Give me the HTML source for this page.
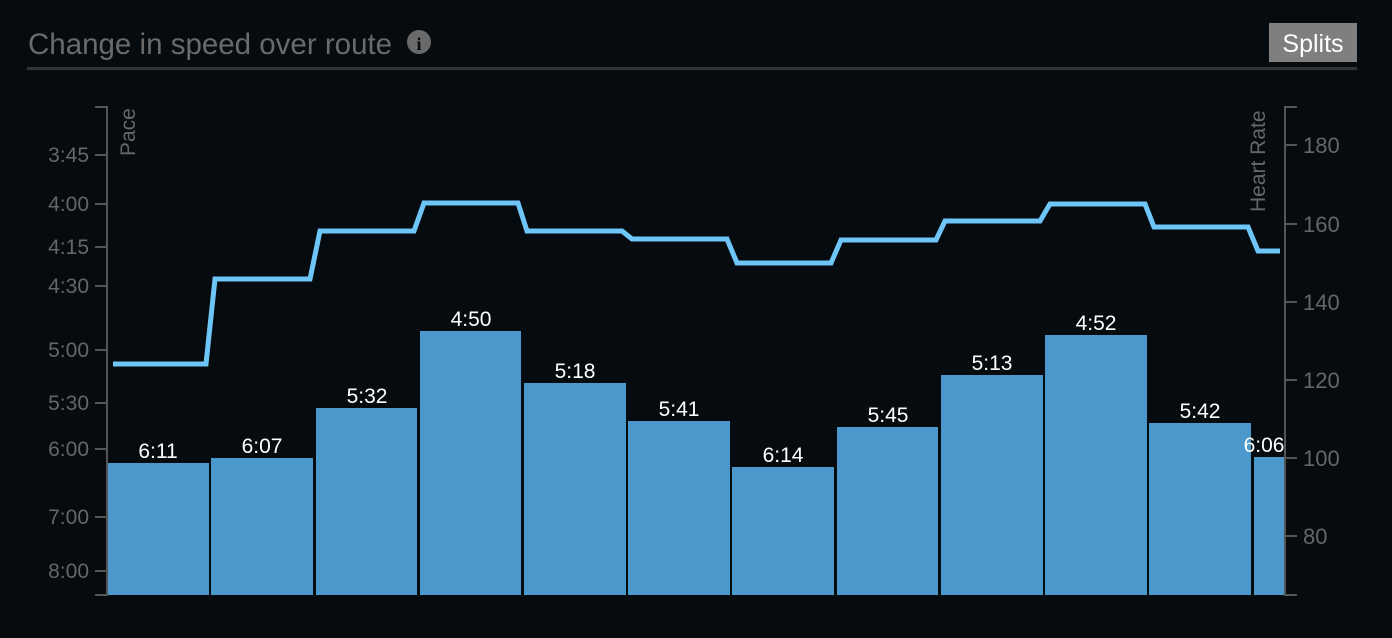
<!DOCTYPE html>
<html><head><style>
html,body{margin:0;padding:0;background:#060b0f;}
svg{display:block;font-family:"Liberation Sans",Arial,sans-serif;}
</style></head><body>
<svg width="1392" height="638" viewBox="0 0 1392 638">
<rect width="1392" height="638" fill="#060b0f"/>
<text x="28" y="54" font-size="29.5" fill="#6a6a6a">Change in speed over route</text>
<circle cx="419" cy="42" r="12" fill="#6a6a6a"/>
<text x="419" y="50" font-size="18" font-weight="bold" fill="#060b0f" text-anchor="middle" font-family="Liberation Serif,serif">i</text>
<rect x="27" y="67" width="1330" height="3" fill="#333"/>
<rect x="1269" y="23" width="88" height="39" fill="#7f7f7f"/>
<text x="1313" y="52" font-size="25" fill="#fff" text-anchor="middle">Splits</text>
<g fill="#4a98cc">
<rect x="108" y="463" width="101" height="132"/>
<rect x="211" y="458" width="102" height="137"/>
<rect x="316" y="408" width="101" height="187"/>
<rect x="420" y="331" width="101" height="264"/>
<rect x="524" y="383" width="102" height="212"/>
<rect x="628" y="421" width="102" height="174"/>
<rect x="732" y="467" width="102" height="128"/>
<rect x="837" y="427" width="101" height="168"/>
<rect x="941" y="375" width="102" height="220"/>
<rect x="1045" y="335" width="102" height="260"/>
<rect x="1149" y="423" width="102" height="172"/>
<rect x="1254" y="457" width="32" height="138"/>
</g>
<g font-size="21" fill="#fff" text-anchor="middle">
<text x="158" y="458">6:11</text>
<text x="262" y="453">6:07</text>
<text x="367" y="403">5:32</text>
<text x="471" y="326">4:50</text>
<text x="575" y="378">5:18</text>
<text x="679" y="416">5:41</text>
<text x="783" y="462">6:14</text>
<text x="888" y="422">5:45</text>
<text x="992" y="370">5:13</text>
<text x="1096" y="330">4:52</text>
<text x="1200" y="418">5:42</text>
<text x="1264" y="452">6:06</text>
</g>
<polyline fill="none" stroke="#6ec6f8" stroke-width="5" points="113,364 206,364 215,279 310,279 320,231 414,231 424,203 518,203 527,231 622,231 632,239 727,239 737,263 831,263 841,240 936,240 945,221 1040,221 1050,204 1145,204 1154,227 1248,227 1258,251 1280,251"/>
<g stroke="#555" stroke-width="2" fill="none">
<polyline points="95,107 107,107 107,595 95,595"/>
<line x1="95" y1="155" x2="107" y2="155"/><line x1="95" y1="204" x2="107" y2="204"/>
<line x1="95" y1="247" x2="107" y2="247"/><line x1="95" y1="286" x2="107" y2="286"/>
<line x1="95" y1="350" x2="107" y2="350"/><line x1="95" y1="403" x2="107" y2="403"/>
<line x1="95" y1="449" x2="107" y2="449"/><line x1="95" y1="517" x2="107" y2="517"/>
<line x1="95" y1="571" x2="107" y2="571"/>
<polyline points="1297,107 1285,107 1285,595 1297,595"/>
<line x1="1285" y1="145" x2="1297" y2="145"/><line x1="1285" y1="224" x2="1297" y2="224"/>
<line x1="1285" y1="302" x2="1297" y2="302"/><line x1="1285" y1="380" x2="1297" y2="380"/>
<line x1="1285" y1="458" x2="1297" y2="458"/><line x1="1285" y1="536" x2="1297" y2="536"/>
</g>
<g font-size="21" fill="#666" text-anchor="end">
<text x="89" y="162">3:45</text><text x="89" y="211">4:00</text>
<text x="89" y="254">4:15</text><text x="89" y="293">4:30</text>
<text x="89" y="357">5:00</text><text x="89" y="410">5:30</text>
<text x="89" y="456">6:00</text><text x="89" y="524">7:00</text>
<text x="89" y="578">8:00</text>
</g>
<g font-size="22" fill="#666">
<text x="1303" y="153">180</text><text x="1303" y="232">160</text>
<text x="1303" y="310">140</text><text x="1303" y="388">120</text>
<text x="1303" y="466">100</text><text x="1303" y="544">80</text>
</g>
<text transform="translate(135,156) rotate(-90)" font-size="21" fill="#666">Pace</text>
<text transform="translate(1265,212) rotate(-90)" font-size="21" fill="#666">Heart Rate</text>
</svg>
</body></html>
